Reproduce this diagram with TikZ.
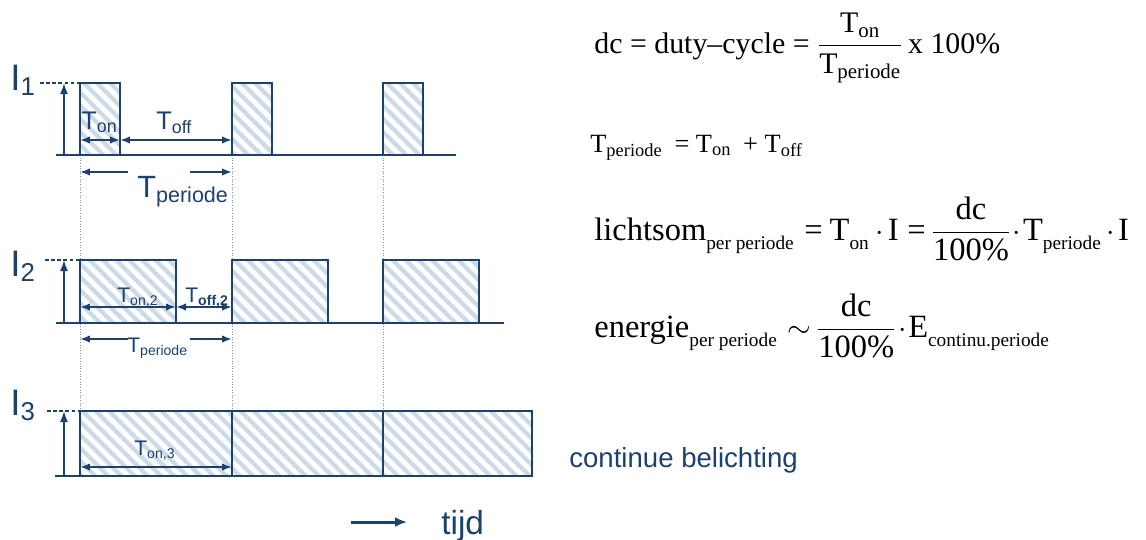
\documentclass[tikz,border=0pt]{standalone}
\usepackage{amsmath}
\usepackage{fontspec}
\setmainfont{Liberation Serif}
\setsansfont{Liberation Sans}
\usepackage{tikz}
\usetikzlibrary{arrows.meta,positioning,patterns.meta}
\definecolor{PulseNavy}{HTML}{1B416F}
\definecolor{PulseHatch}{HTML}{CCDAE8}
\definecolor{PulseGuide}{HTML}{7F93AD}
\newcommand{\eqsub}[1]{\raisebox{-5.5pt}{\fontsize{11}{12}\selectfont #1}}
\newcommand{\eqfrac}[2]{$\dfrac{\text{#1}}{\text{#2}}$}

\begin{document}
\begin{tikzpicture}[
  x=0.02cm, y=-0.02cm,
  pulse/.style={draw=PulseNavy, line width=1.5pt, pattern={Lines[angle=-45,distance=5.3pt,line width=2.4pt]}, pattern color=PulseHatch},
  wave/.style={draw=PulseNavy, line width=1.6pt},
  yarrow/.style={-{Latex[length=2.2mm,width=1.6mm]}, draw=PulseNavy, line width=0.9pt},
  dimarrow/.style={{Latex[length=2mm,width=1.5mm]}-{Latex[length=2mm,width=1.5mm]}, draw=PulseNavy, line width=1pt},
  halfarrow/.style={-{Latex[length=2mm,width=1.5mm]}, draw=PulseNavy, line width=1pt},
  peakline/.style={draw=PulseNavy, dash pattern=on 2pt off 1.5pt, line width=0.6pt},
  guideline/.style={draw=PulseGuide, densely dotted, line width=0.5pt},
  lbl/.style={text=PulseNavy, inner sep=0pt, anchor=base west},
  eq/.style={inner sep=0pt, anchor=base west}
]
  \useasboundingbox (0,0) rectangle (1146,539);

  \draw[guideline] (80,155) -- (80,411);
  \draw[guideline] (232,155) -- (232,411);
  \draw[guideline] (383,155) -- (383,411);

  % eerste golfvorm
  \draw[wave] (56,155) -- (456,155);
  \draw[pulse] (80,155) rectangle (120,83);
  \draw[pulse] (232,155) rectangle (272,83);
  \draw[pulse] (383,155) rectangle (423,83);
  \coordinate (a0) at (64,155);
  \coordinate (a1) at (64,83);
  \coordinate (p1) at (40,83);
  \draw[yarrow] (a0) -- (a1);
  \draw[peakline] (p1) -- (80,83);
  \node[lbl, font=\sffamily\fontsize{21}{24}\selectfont] (i1) at (10,90) {I$_{\text{1}}$};
  \coordinate (on1s) at (80,140);
  \coordinate (on1e) at (120,140);
  \coordinate (off1e) at (232,140);
  \draw[dimarrow] (on1s) -- (on1e);
  \draw[dimarrow] (on1e) -- (off1e);
  \node[lbl, font=\sffamily\fontsize{14.5}{17}\selectfont] (ton1) at (81,129) {T$_{\text{on}}$};
  \node[lbl, font=\sffamily\fontsize{14.5}{17}\selectfont] (toff1) at (156,129) {T$_{\text{off}}$};
  \coordinate (per1s) at (80,172);
  \coordinate (per1e) at (232,172);
  \draw[halfarrow] (128,172) -- (per1s);
  \draw[halfarrow] (190,172) -- (per1e);
  \node[lbl, font=\sffamily\fontsize{17.5}{20}\selectfont] (tper1) at (137,197) {T$_{\text{periode}}$};

  % tweede golfvorm
  \draw[wave] (56,323) -- (504,323);
  \draw[pulse] (80,323) rectangle (176,260);
  \draw[pulse] (232,323) rectangle (328,260);
  \draw[pulse] (383,323) rectangle (479,260);
  \coordinate (b0) at (64,323);
  \coordinate (b1) at (64,260);
  \coordinate (p2) at (45,260);
  \draw[yarrow] (b0) -- (b1);
  \draw[peakline] (p2) -- (80,260);
  \node[lbl, font=\sffamily\fontsize{21}{24}\selectfont] (i2) at (10,276) {I$_{\text{2}}$};
  \coordinate (on2s) at (80,307);
  \coordinate (on2e) at (176,307);
  \coordinate (off2e) at (232,307);
  \draw[dimarrow] (on2s) -- (on2e);
  \draw[dimarrow] (on2e) -- (off2e);
  \node[lbl, font=\sffamily\fontsize{12}{14}\selectfont] (ton2) at (117,302) {T$_{\text{on,2}}$};
  \node[lbl, font=\sffamily\fontsize{12}{14}\selectfont] (toff2) at (185,302) {T$_{\textbf{off,2}}$};
  \coordinate (per2s) at (80,339);
  \coordinate (per2e) at (232,339);
  \draw[halfarrow] (128,339) -- (per2s);
  \draw[halfarrow] (190,339) -- (per2e);
  \node[lbl, font=\sffamily\fontsize{12}{14}\selectfont] (tper2) at (127,352) {T$_{\text{periode}}$};

  % derde golfvorm
  \draw[wave] (55,476) -- (80,476);
  \draw[pulse] (80,476) rectangle (232,411);
  \draw[pulse] (232,476) rectangle (383,411);
  \draw[pulse] (383,476) rectangle (532,411);
  \coordinate (c0) at (64,476);
  \coordinate (c1) at (64,411);
  \coordinate (p3) at (47,411);
  \draw[yarrow] (c0) -- (c1);
  \draw[peakline] (p3) -- (80,411);
  \node[lbl, font=\sffamily\fontsize{21}{24}\selectfont] (i3) at (10,415) {I$_{\text{3}}$};
  \coordinate (on3s) at (80,467);
  \coordinate (on3e) at (232,467);
  \draw[dimarrow] (on3s) -- (on3e);
  \node[lbl, font=\sffamily\fontsize{12}{14}\selectfont] (ton3) at (134,455) {T$_{\text{on,3}}$};

  \node[lbl, font=\sffamily\fontsize{15.7}{18}\selectfont] (cont) at (569,467) {continue belichting};
  \node[lbl, font=\sffamily\fontsize{19}{22}\selectfont] (tijd) at (441,534) {tijd};
  \coordinate (t0) at (351,522);
  \coordinate (t1) at (407,522);
  \draw[-{Latex[length=2.4mm,width=2mm]}, draw=PulseNavy, line width=1.7pt] (t0) -- (t1);

  % formules
  \node[eq, font=\fontsize{17}{20}\selectfont] (dc) at (594,53)
    {dc = duty–cycle = $\dfrac{\text{T}_{\text{on}}}{\text{T}_{\text{periode}}}$\,x 100\%};
  \node[eq, font=\fontsize{15}{17}\selectfont] (tper) at (590,152)
    {T$_{\text{periode}}$\hspace{3pt} = T$_{\text{on}}$\hspace{3pt} + T$_{\text{off}}$};
  \node[eq, font=\fontsize{18.5}{22}\selectfont] (licht) at (594,240)
    {lichtsom\eqsub{per periode}\hspace{6pt}=\hspace{4pt}T\eqsub{on}\hspace{4pt}$\cdot$\hspace{2pt}I\hspace{5pt}=\hspace{3pt}\eqfrac{dc}{100\%}\hspace{1pt}$\cdot$\hspace{1pt}T\eqsub{periode}\hspace{3pt}$\cdot$\hspace{2pt}I};
  \node[eq, font=\fontsize{18.5}{22}\selectfont] (energie) at (594,337)
    {energie\eqsub{per periode}\hspace{6pt}$\sim$\hspace{3pt}\eqfrac{dc}{100\%}\hspace{1pt}$\cdot$\hspace{1pt}E\eqsub{continu.periode}};
\end{tikzpicture}
\end{document}
